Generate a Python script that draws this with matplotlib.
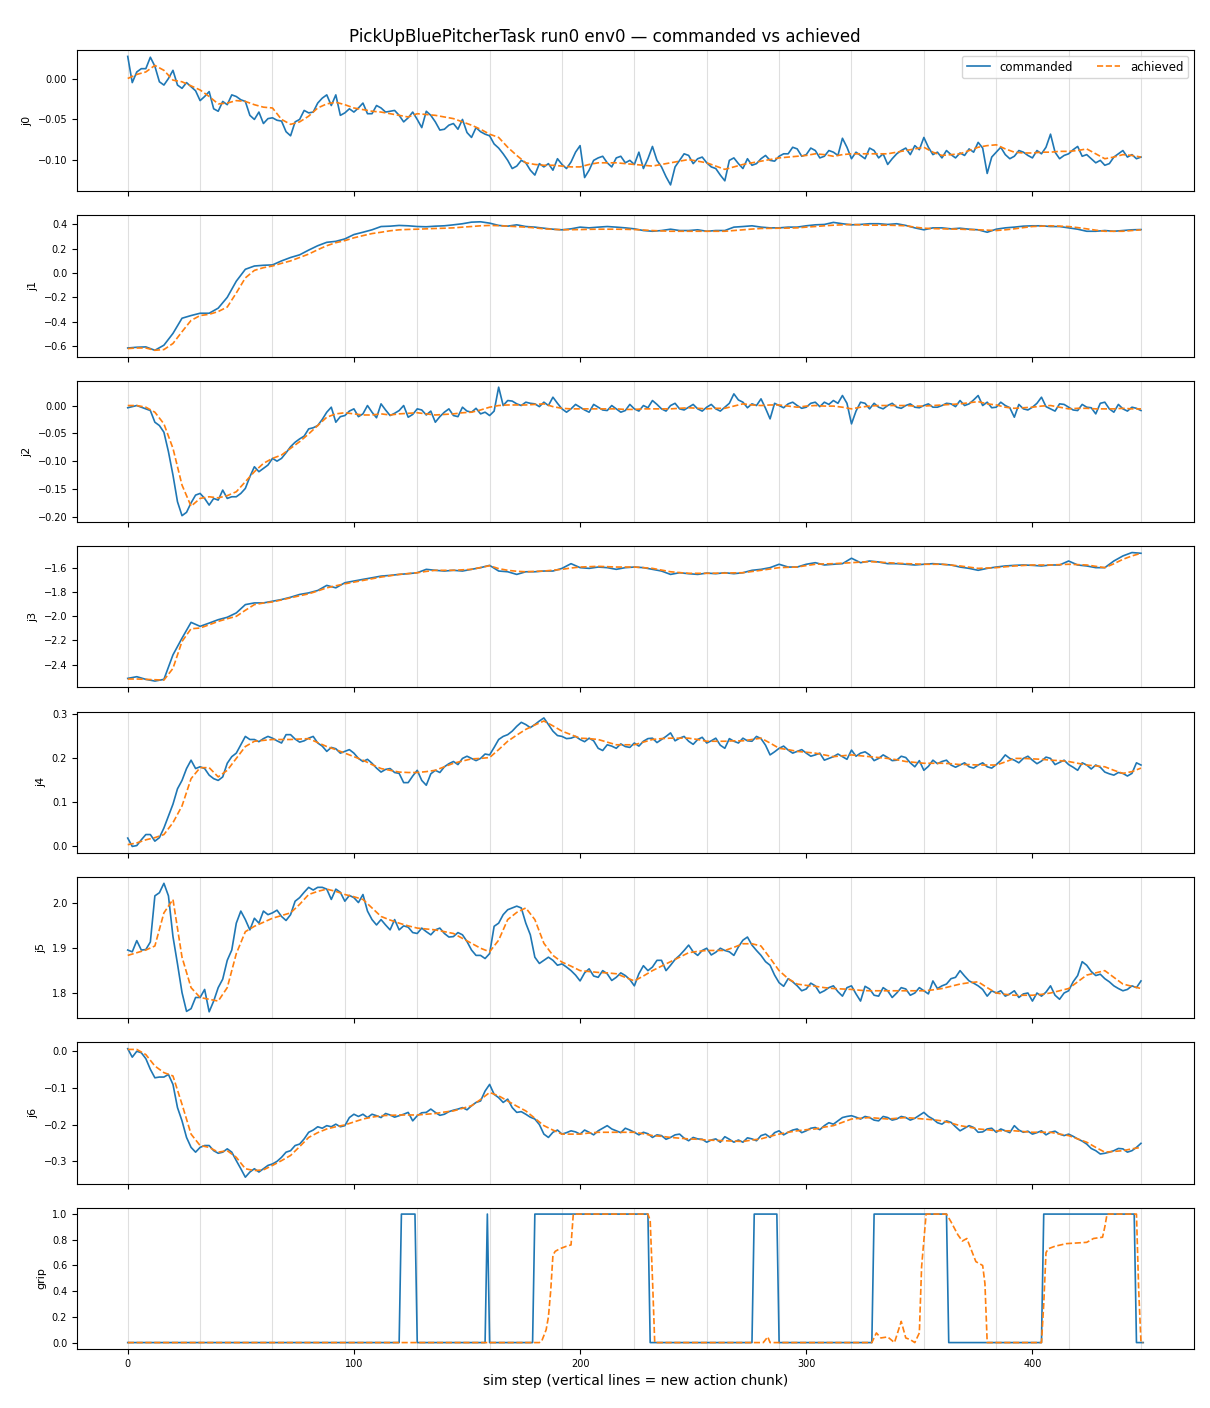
import numpy as np
import matplotlib
matplotlib.use("Agg")
import matplotlib.pyplot as plt
from matplotlib.ticker import MaxNLocator

# commanded / achieved joint values, read every 4 sim steps (0..448)
steps = np.arange(0, 449, 4)
chunk_starts = np.arange(0, 449, 32)

j0_cmd = [0.027, 0.008, 0.012, 0.015, -0.008, 0.010, -0.012, -0.010,
          -0.027, -0.016, -0.040, -0.032, -0.022, -0.028, -0.050, -0.055,
          -0.048, -0.052, -0.070, -0.050, -0.042, -0.030, -0.020, -0.020,
          -0.042, -0.041, -0.030, -0.043, -0.036, -0.040, -0.045, -0.048,
          -0.050, -0.040, -0.053, -0.062, -0.055, -0.050, -0.072, -0.065,
          -0.070, -0.085, -0.100, -0.107, -0.103, -0.118, -0.108, -0.112,
          -0.105, -0.102, -0.082, -0.112, -0.097, -0.103, -0.097, -0.103,
          -0.105, -0.110, -0.083, -0.108, -0.130, -0.100, -0.094, -0.098,
          -0.103, -0.110, -0.125, -0.097, -0.110, -0.106, -0.098, -0.100,
          -0.095, -0.092, -0.086, -0.093, -0.088, -0.095, -0.090, -0.073,
          -0.098, -0.094, -0.085, -0.097, -0.105, -0.092, -0.085, -0.082,
          -0.072, -0.093, -0.097, -0.093, -0.091, -0.086, -0.078, -0.116,
          -0.090, -0.093, -0.095, -0.090, -0.097, -0.092, -0.068, -0.098,
          -0.092, -0.083, -0.093, -0.103, -0.106, -0.096, -0.088, -0.093,
          -0.096]
# commanded values in between (steps 2, 6, ..., 446)
j0_cmd_mid = [-0.005, 0.012, 0.026, -0.004, 0.000, -0.008, -0.005, -0.015,
              -0.022, -0.037, -0.028, -0.020, -0.026, -0.045, -0.041, -0.049,
              -0.051, -0.065, -0.053, -0.039, -0.041, -0.024, -0.033, -0.045,
              -0.037, -0.036, -0.043, -0.033, -0.041, -0.039, -0.053, -0.041,
              -0.060, -0.045, -0.063, -0.057, -0.062, -0.066, -0.060, -0.068,
              -0.080, -0.092, -0.110, -0.100, -0.112, -0.104, -0.104, -0.098,
              -0.110, -0.090, -0.121, -0.100, -0.095, -0.108, -0.095, -0.100,
              -0.090, -0.098, -0.100, -0.120, -0.108, -0.092, -0.104, -0.096,
              -0.108, -0.118, -0.100, -0.104, -0.098, -0.104, -0.094, -0.101,
              -0.092, -0.084, -0.095, -0.085, -0.097, -0.088, -0.094, -0.084,
              -0.090, -0.098, -0.088, -0.092, -0.098, -0.088, -0.093, -0.087,
              -0.084, -0.090, -0.088, -0.097, -0.094, -0.090, -0.085, -0.096,
              -0.084, -0.098, -0.088, -0.094, -0.088, -0.084, -0.090, -0.094,
              -0.087, -0.095, -0.098, -0.100, -0.104, -0.092, -0.096, -0.098]
j0_ach = [0.000, 0.005, 0.008, 0.016, 0.010, -0.002, -0.004, -0.009,
          -0.014, -0.022, -0.031, -0.030, -0.027, -0.028, -0.032, -0.035,
          -0.036, -0.050, -0.056, -0.053, -0.046, -0.036, -0.031, -0.029,
          -0.032, -0.036, -0.038, -0.040, -0.041, -0.043, -0.045, -0.047,
          -0.043, -0.044, -0.045, -0.047, -0.049, -0.053, -0.057, -0.062,
          -0.068, -0.072, -0.084, -0.094, -0.103, -0.105, -0.106, -0.106,
          -0.107, -0.108, -0.108, -0.105, -0.103, -0.103, -0.103, -0.104,
          -0.105, -0.106, -0.107, -0.105, -0.103, -0.101, -0.099, -0.101,
          -0.103, -0.107, -0.111, -0.108, -0.105, -0.103, -0.101, -0.099,
          -0.097, -0.096, -0.095, -0.094, -0.092, -0.093, -0.095, -0.093,
          -0.092, -0.092, -0.092, -0.092, -0.092, -0.090, -0.088, -0.086,
          -0.084, -0.090, -0.094, -0.093, -0.092, -0.088, -0.084, -0.082,
          -0.081, -0.086, -0.090, -0.091, -0.091, -0.090, -0.090, -0.089,
          -0.089, -0.088, -0.086, -0.092, -0.098, -0.096, -0.093, -0.094,
          -0.096]

j1_cmd = [-0.617, -0.611, -0.608, -0.636, -0.594, -0.497, -0.372, -0.350,
          -0.331, -0.331, -0.289, -0.200, -0.067, 0.031, 0.058, 0.064,
          0.067, 0.100, 0.128, 0.150, 0.189, 0.225, 0.253, 0.261,
          0.281, 0.317, 0.336, 0.356, 0.383, 0.386, 0.392, 0.389,
          0.383, 0.381, 0.386, 0.389, 0.397, 0.406, 0.419, 0.422,
          0.411, 0.392, 0.386, 0.397, 0.383, 0.378, 0.369, 0.361,
          0.356, 0.364, 0.378, 0.372, 0.378, 0.383, 0.378, 0.372,
          0.364, 0.350, 0.344, 0.350, 0.361, 0.350, 0.350, 0.356,
          0.344, 0.350, 0.350, 0.378, 0.383, 0.389, 0.378, 0.372,
          0.372, 0.378, 0.378, 0.389, 0.397, 0.400, 0.417, 0.406,
          0.397, 0.400, 0.406, 0.406, 0.400, 0.406, 0.392, 0.372,
          0.356, 0.372, 0.372, 0.364, 0.369, 0.361, 0.356, 0.336,
          0.361, 0.372, 0.378, 0.386, 0.389, 0.389, 0.383, 0.383,
          0.372, 0.361, 0.344, 0.344, 0.350, 0.344, 0.350, 0.356,
          0.358]
j1_ach = [-0.622, -0.617, -0.617, -0.636, -0.630, -0.580, -0.483, -0.390,
          -0.350, -0.340, -0.317, -0.280, -0.164, -0.040, 0.022, 0.044,
          0.058, 0.080, 0.100, 0.128, 0.156, 0.192, 0.225, 0.250,
          0.267, 0.290, 0.308, 0.325, 0.336, 0.348, 0.356, 0.359,
          0.361, 0.364, 0.367, 0.369, 0.372, 0.378, 0.383, 0.389,
          0.392, 0.390, 0.386, 0.382, 0.378, 0.372, 0.364, 0.360,
          0.356, 0.357, 0.358, 0.360, 0.361, 0.361, 0.361, 0.360,
          0.358, 0.354, 0.350, 0.347, 0.344, 0.344, 0.344, 0.344,
          0.344, 0.344, 0.344, 0.350, 0.356, 0.362, 0.367, 0.368,
          0.369, 0.370, 0.372, 0.378, 0.383, 0.389, 0.394, 0.397,
          0.400, 0.397, 0.394, 0.394, 0.394, 0.392, 0.389, 0.378,
          0.369, 0.366, 0.364, 0.362, 0.361, 0.358, 0.356, 0.353,
          0.350, 0.356, 0.364, 0.374, 0.383, 0.386, 0.389, 0.386,
          0.383, 0.374, 0.364, 0.353, 0.344, 0.344, 0.344, 0.350,
          0.356]

j2_cmd = [-0.004, 0.000, -0.006, -0.030, -0.048, -0.125, -0.198, -0.175,
          -0.158, -0.179, -0.170, -0.167, -0.164, -0.149, -0.110, -0.113,
          -0.095, -0.095, -0.074, -0.060, -0.042, -0.036, -0.012, -0.030,
          -0.018, -0.006, -0.015, -0.012, 0.003, -0.018, -0.009, -0.021,
          -0.006, -0.017, -0.030, -0.012, -0.018, -0.003, -0.012, -0.015,
          -0.018, 0.033, 0.009, 0.003, 0.006, 0.003, 0.006, 0.015,
          -0.006, -0.006, -0.003, -0.012, -0.003, -0.009, -0.006, -0.009,
          -0.006, 0.000, 0.009, -0.006, 0.000, -0.006, -0.003, -0.006,
          -0.003, -0.006, -0.003, 0.021, 0.006, 0.003, 0.012, -0.024,
          0.000, 0.003, 0.000, -0.003, 0.006, 0.006, 0.009, 0.018,
          -0.033, 0.006, -0.006, -0.003, 0.000, -0.003, 0.000, -0.003,
          0.000, -0.003, 0.000, 0.003, 0.009, 0.003, 0.018, 0.006,
          -0.003, 0.000, -0.021, -0.006, -0.003, 0.015, -0.006, 0.003,
          -0.003, -0.009, -0.003, -0.015, 0.006, -0.012, -0.006, -0.003,
          -0.009]
j2_cmd_mid = [-0.002, -0.003, -0.009, -0.036, -0.083, -0.173, -0.192, -0.161,
              -0.167, -0.167, -0.152, -0.164, -0.158, -0.128, -0.119, -0.107,
              -0.100, -0.085, -0.066, -0.055, -0.040, -0.025, -0.003, -0.020,
              -0.010, -0.020, 0.000, -0.022, -0.008, -0.014, 0.000, -0.016,
              -0.008, -0.010, -0.020, -0.006, -0.020, -0.010, -0.005, -0.012,
              -0.010, 0.000, 0.008, 0.000, 0.004, -0.002, 0.000, 0.004,
              -0.012, 0.002, -0.008, 0.002, -0.008, 0.000, -0.012, 0.002,
              -0.010, -0.004, 0.002, -0.010, 0.004, -0.008, 0.002, -0.010,
              0.002, -0.010, 0.004, 0.010, -0.004, 0.000, -0.005, 0.004,
              -0.004, 0.006, -0.005, 0.004, -0.002, 0.002, 0.004, 0.004,
              -0.010, 0.004, 0.004, -0.006, 0.004, -0.005, 0.003, -0.004,
              0.003, -0.003, 0.004, -0.002, 0.000, 0.010, 0.000, -0.004,
              0.006, -0.004, 0.002, -0.008, 0.004, -0.002, -0.010, 0.002,
              -0.008, 0.002, -0.004, 0.004, -0.006, 0.002, -0.010, -0.005]
j2_ach = [0.000, 0.000, -0.003, -0.012, -0.033, -0.077, -0.143, -0.181,
          -0.167, -0.164, -0.166, -0.162, -0.155, -0.137, -0.119, -0.104,
          -0.095, -0.089, -0.077, -0.065, -0.051, -0.036, -0.021, -0.015,
          -0.013, -0.015, -0.017, -0.017, -0.015, -0.017, -0.015, -0.014,
          -0.013, -0.015, -0.017, -0.016, -0.015, -0.013, -0.012, -0.008,
          -0.003, 0.000, 0.001, 0.001, 0.001, 0.002, 0.003, -0.002,
          -0.005, -0.006, -0.006, -0.006, -0.006, -0.006, -0.006, -0.007,
          -0.007, -0.006, -0.006, -0.006, -0.006, -0.005, -0.004, -0.005,
          -0.006, -0.005, -0.005, -0.001, 0.003, 0.001, 0.000, 0.001,
          0.001, -0.001, -0.003, -0.001, 0.000, -0.001, -0.001, -0.003,
          -0.006, -0.003, -0.001, 0.000, 0.000, 0.000, 0.000, -0.001,
          -0.001, 0.000, 0.001, 0.002, 0.003, 0.005, 0.007, 0.003,
          0.001, -0.003, -0.005, -0.004, -0.003, -0.001, 0.000, -0.003,
          -0.006, -0.005, -0.005, -0.006, -0.006, -0.006, -0.005, -0.006,
          -0.006]

j3_cmd = [-2.514, -2.500, -2.522, -2.536, -2.522, -2.319, -2.181, -2.050,
          -2.083, -2.056, -2.028, -2.008, -1.972, -1.903, -1.889, -1.889,
          -1.875, -1.861, -1.842, -1.819, -1.806, -1.786, -1.744, -1.764,
          -1.722, -1.708, -1.694, -1.681, -1.667, -1.661, -1.653, -1.647,
          -1.639, -1.611, -1.619, -1.625, -1.619, -1.625, -1.611, -1.597,
          -1.578, -1.625, -1.631, -1.653, -1.631, -1.631, -1.625, -1.625,
          -1.603, -1.564, -1.597, -1.603, -1.592, -1.597, -1.611, -1.597,
          -1.592, -1.597, -1.611, -1.625, -1.653, -1.639, -1.647, -1.653,
          -1.642, -1.647, -1.639, -1.647, -1.639, -1.619, -1.611, -1.597,
          -1.569, -1.592, -1.592, -1.569, -1.556, -1.575, -1.569, -1.564,
          -1.519, -1.556, -1.542, -1.550, -1.564, -1.564, -1.569, -1.575,
          -1.569, -1.564, -1.569, -1.575, -1.592, -1.603, -1.619, -1.603,
          -1.592, -1.583, -1.578, -1.575, -1.578, -1.583, -1.575, -1.575,
          -1.542, -1.575, -1.583, -1.597, -1.597, -1.542, -1.500, -1.472,
          -1.478]
j3_ach = [-2.519, -2.519, -2.522, -2.525, -2.528, -2.431, -2.208, -2.103,
          -2.097, -2.070, -2.042, -2.020, -2.000, -1.950, -1.903, -1.890,
          -1.881, -1.864, -1.847, -1.830, -1.814, -1.790, -1.764, -1.747,
          -1.731, -1.717, -1.703, -1.689, -1.675, -1.664, -1.653, -1.646,
          -1.639, -1.628, -1.619, -1.619, -1.619, -1.615, -1.611, -1.596,
          -1.581, -1.605, -1.619, -1.627, -1.631, -1.628, -1.625, -1.618,
          -1.611, -1.600, -1.592, -1.589, -1.586, -1.589, -1.592, -1.592,
          -1.592, -1.597, -1.603, -1.617, -1.631, -1.638, -1.644, -1.644,
          -1.644, -1.643, -1.642, -1.640, -1.639, -1.629, -1.619, -1.608,
          -1.597, -1.594, -1.592, -1.580, -1.569, -1.566, -1.564, -1.560,
          -1.556, -1.551, -1.547, -1.551, -1.556, -1.560, -1.564, -1.566,
          -1.569, -1.569, -1.569, -1.576, -1.583, -1.593, -1.603, -1.600,
          -1.597, -1.590, -1.583, -1.579, -1.575, -1.575, -1.575, -1.572,
          -1.569, -1.572, -1.575, -1.586, -1.597, -1.565, -1.528, -1.500,
          -1.478]

j4_cmd = [0.019, 0.002, 0.027, 0.012, 0.042, 0.096, 0.150, 0.196,
          0.181, 0.162, 0.150, 0.189, 0.212, 0.250, 0.243, 0.245,
          0.246, 0.235, 0.254, 0.237, 0.246, 0.235, 0.216, 0.222,
          0.216, 0.212, 0.193, 0.189, 0.169, 0.177, 0.166, 0.145,
          0.173, 0.139, 0.173, 0.181, 0.193, 0.200, 0.200, 0.200,
          0.208, 0.243, 0.254, 0.273, 0.277, 0.277, 0.292, 0.262,
          0.250, 0.246, 0.243, 0.246, 0.223, 0.231, 0.223, 0.227,
          0.235, 0.239, 0.246, 0.243, 0.258, 0.246, 0.239, 0.243,
          0.235, 0.246, 0.223, 0.239, 0.246, 0.239, 0.245, 0.208,
          0.223, 0.219, 0.216, 0.212, 0.208, 0.196, 0.204, 0.204,
          0.219, 0.212, 0.208, 0.200, 0.202, 0.196, 0.202, 0.181,
          0.173, 0.196, 0.193, 0.185, 0.185, 0.181, 0.185, 0.181,
          0.186, 0.208, 0.196, 0.200, 0.196, 0.194, 0.200, 0.191,
          0.186, 0.173, 0.185, 0.185, 0.169, 0.162, 0.166, 0.166,
          0.185]
j4_cmd_mid = [0.000, 0.015, 0.027, 0.020, 0.069, 0.131, 0.177, 0.177,
              0.177, 0.154, 0.158, 0.204, 0.231, 0.243, 0.238, 0.250,
              0.240, 0.254, 0.244, 0.240, 0.250, 0.228, 0.225, 0.212,
              0.220, 0.200, 0.198, 0.178, 0.175, 0.168, 0.145, 0.160,
              0.150, 0.165, 0.168, 0.188, 0.186, 0.205, 0.195, 0.210,
              0.225, 0.250, 0.262, 0.282, 0.270, 0.285, 0.277, 0.252,
              0.245, 0.250, 0.238, 0.240, 0.218, 0.228, 0.233, 0.225,
              0.228, 0.245, 0.236, 0.250, 0.240, 0.250, 0.232, 0.248,
              0.240, 0.230, 0.245, 0.235, 0.240, 0.250, 0.230, 0.215,
              0.228, 0.212, 0.220, 0.205, 0.212, 0.200, 0.210, 0.198,
              0.205, 0.215, 0.195, 0.208, 0.195, 0.205, 0.190, 0.195,
              0.182, 0.188, 0.196, 0.180, 0.190, 0.178, 0.190, 0.178,
              0.195, 0.200, 0.190, 0.205, 0.188, 0.203, 0.186, 0.196,
              0.180, 0.190, 0.176, 0.180, 0.165, 0.168, 0.160, 0.190]
j4_ach = [0.004, 0.008, 0.015, 0.020, 0.027, 0.054, 0.092, 0.154,
          0.179, 0.179, 0.158, 0.173, 0.200, 0.227, 0.239, 0.241,
          0.243, 0.243, 0.243, 0.244, 0.245, 0.236, 0.227, 0.220,
          0.212, 0.204, 0.196, 0.186, 0.177, 0.173, 0.169, 0.168,
          0.168, 0.170, 0.173, 0.181, 0.189, 0.194, 0.199, 0.200,
          0.202, 0.220, 0.239, 0.253, 0.266, 0.276, 0.285, 0.274,
          0.262, 0.254, 0.246, 0.245, 0.243, 0.237, 0.231, 0.231,
          0.231, 0.237, 0.243, 0.245, 0.246, 0.246, 0.246, 0.243,
          0.239, 0.239, 0.239, 0.240, 0.240, 0.243, 0.246, 0.235,
          0.223, 0.220, 0.216, 0.214, 0.212, 0.208, 0.204, 0.206,
          0.208, 0.206, 0.204, 0.202, 0.200, 0.197, 0.193, 0.191,
          0.189, 0.189, 0.189, 0.188, 0.186, 0.186, 0.185, 0.185,
          0.185, 0.192, 0.200, 0.200, 0.199, 0.198, 0.196, 0.195,
          0.193, 0.189, 0.185, 0.183, 0.181, 0.173, 0.166, 0.170,
          0.178]

j5_cmd = [1.896, 1.917, 1.897, 2.017, 2.045, 1.926, 1.801, 1.765,
          1.790, 1.758, 1.812, 1.873, 1.956, 1.964, 1.967, 1.983,
          1.979, 1.971, 1.975, 2.013, 2.036, 2.036, 2.032, 2.032,
          2.005, 2.013, 2.020, 1.964, 1.964, 1.941, 1.941, 1.947,
          1.933, 1.937, 1.941, 1.933, 1.926, 1.930, 1.896, 1.884,
          1.888, 1.956, 1.986, 1.994, 1.956, 1.880, 1.873, 1.873,
          1.865, 1.850, 1.827, 1.854, 1.835, 1.843, 1.835, 1.839,
          1.816, 1.861, 1.858, 1.873, 1.862, 1.884, 1.907, 1.884,
          1.900, 1.891, 1.895, 1.884, 1.918, 1.907, 1.884, 1.862,
          1.823, 1.832, 1.816, 1.809, 1.816, 1.805, 1.816, 1.793,
          1.816, 1.782, 1.809, 1.793, 1.805, 1.800, 1.809, 1.800,
          1.805, 1.827, 1.816, 1.832, 1.850, 1.827, 1.816, 1.793,
          1.800, 1.793, 1.805, 1.798, 1.782, 1.793, 1.816, 1.786,
          1.805, 1.839, 1.862, 1.839, 1.832, 1.816, 1.805, 1.816,
          1.827]
j5_cmd_mid = [1.892, 1.896, 1.914, 2.024, 2.017, 1.865, 1.759, 1.790,
              1.808, 1.782, 1.831, 1.896, 1.983, 1.941, 1.956, 1.975,
              1.985, 1.962, 2.005, 2.025, 2.030, 2.036, 2.009, 2.025,
              2.018, 2.002, 1.983, 1.952, 1.952, 1.964, 1.950, 1.935,
              1.945, 1.930, 1.945, 1.925, 1.935, 1.915, 1.884, 1.877,
              1.949, 1.975, 1.990, 1.990, 1.930, 1.866, 1.880, 1.862,
              1.858, 1.840, 1.845, 1.838, 1.850, 1.828, 1.845, 1.830,
              1.843, 1.850, 1.873, 1.850, 1.875, 1.895, 1.892, 1.895,
              1.885, 1.900, 1.892, 1.903, 1.925, 1.895, 1.870, 1.840,
              1.815, 1.825, 1.805, 1.822, 1.800, 1.812, 1.803, 1.812,
              1.798, 1.815, 1.795, 1.812, 1.790, 1.812, 1.795, 1.812,
              1.798, 1.810, 1.820, 1.835, 1.838, 1.822, 1.808, 1.805,
              1.805, 1.798, 1.790, 1.800, 1.800, 1.802, 1.795, 1.800,
              1.825, 1.870, 1.848, 1.842, 1.825, 1.810, 1.808, 1.812]
j5_ach = [1.884, 1.890, 1.896, 1.905, 1.979, 2.009, 1.880, 1.812,
          1.790, 1.786, 1.782, 1.812, 1.888, 1.937, 1.949, 1.958,
          1.967, 1.973, 1.979, 1.998, 2.020, 2.027, 2.032, 2.027,
          2.020, 2.015, 2.009, 1.990, 1.971, 1.963, 1.956, 1.950,
          1.945, 1.943, 1.941, 1.937, 1.933, 1.922, 1.911, 1.900,
          1.892, 1.918, 1.964, 1.980, 1.990, 1.964, 1.911, 1.884,
          1.869, 1.860, 1.850, 1.848, 1.846, 1.845, 1.843, 1.835,
          1.827, 1.838, 1.850, 1.860, 1.870, 1.880, 1.890, 1.893,
          1.895, 1.895, 1.895, 1.902, 1.910, 1.910, 1.905, 1.878,
          1.850, 1.832, 1.820, 1.817, 1.815, 1.812, 1.810, 1.809,
          1.808, 1.806, 1.805, 1.805, 1.805, 1.805, 1.805, 1.805,
          1.805, 1.807, 1.810, 1.815, 1.820, 1.823, 1.825, 1.812,
          1.800, 1.797, 1.795, 1.795, 1.795, 1.797, 1.800, 1.805,
          1.810, 1.825, 1.840, 1.845, 1.850, 1.835, 1.820, 1.815,
          1.810]

j6_cmd = [0.006, -0.001, -0.021, -0.073, -0.071, -0.091, -0.190, -0.262,
          -0.262, -0.257, -0.278, -0.266, -0.298, -0.343, -0.320, -0.320,
          -0.307, -0.289, -0.271, -0.253, -0.221, -0.206, -0.203, -0.199,
          -0.203, -0.172, -0.172, -0.172, -0.181, -0.174, -0.176, -0.167,
          -0.176, -0.167, -0.167, -0.172, -0.161, -0.154, -0.149, -0.136,
          -0.091, -0.127, -0.131, -0.167, -0.172, -0.185, -0.226, -0.221,
          -0.226, -0.217, -0.226, -0.221, -0.217, -0.203, -0.217, -0.210,
          -0.221, -0.221, -0.235, -0.230, -0.235, -0.226, -0.244, -0.239,
          -0.248, -0.239, -0.233, -0.248, -0.248, -0.239, -0.230, -0.235,
          -0.217, -0.221, -0.212, -0.217, -0.208, -0.203, -0.199, -0.181,
          -0.176, -0.185, -0.181, -0.190, -0.181, -0.185, -0.181, -0.183,
          -0.167, -0.185, -0.199, -0.194, -0.217, -0.203, -0.221, -0.212,
          -0.221, -0.217, -0.203, -0.221, -0.226, -0.217, -0.221, -0.226,
          -0.226, -0.239, -0.253, -0.271, -0.278, -0.271, -0.266, -0.271,
          -0.251]
j6_cmd_mid = [-0.017, -0.005, -0.050, -0.071, -0.064, -0.154, -0.235, -0.275,
              -0.257, -0.271, -0.275, -0.275, -0.320, -0.329, -0.329, -0.311,
              -0.300, -0.275, -0.257, -0.239, -0.215, -0.210, -0.206, -0.206,
              -0.181, -0.178, -0.181, -0.176, -0.170, -0.180, -0.172, -0.190,
              -0.168, -0.158, -0.175, -0.165, -0.158, -0.160, -0.140, -0.109,
              -0.118, -0.140, -0.154, -0.165, -0.180, -0.200, -0.235, -0.215,
              -0.222, -0.220, -0.215, -0.228, -0.210, -0.212, -0.222, -0.215,
              -0.228, -0.225, -0.228, -0.240, -0.228, -0.237, -0.235, -0.240,
              -0.242, -0.248, -0.240, -0.242, -0.236, -0.244, -0.226, -0.222,
              -0.228, -0.215, -0.222, -0.210, -0.214, -0.195, -0.190, -0.178,
              -0.180, -0.178, -0.188, -0.178, -0.188, -0.178, -0.188, -0.175,
              -0.178, -0.195, -0.190, -0.206, -0.210, -0.208, -0.220, -0.210,
              -0.212, -0.222, -0.215, -0.218, -0.222, -0.228, -0.218, -0.230,
              -0.232, -0.245, -0.265, -0.280, -0.275, -0.265, -0.275, -0.262]
j6_ach = [0.004, 0.004, -0.010, -0.041, -0.059, -0.068, -0.145, -0.226,
          -0.257, -0.262, -0.275, -0.271, -0.289, -0.320, -0.325, -0.323,
          -0.311, -0.298, -0.284, -0.260, -0.235, -0.222, -0.212, -0.206,
          -0.201, -0.193, -0.185, -0.180, -0.176, -0.175, -0.174, -0.174,
          -0.174, -0.172, -0.170, -0.166, -0.163, -0.156, -0.149, -0.132,
          -0.113, -0.122, -0.136, -0.150, -0.163, -0.183, -0.203, -0.215,
          -0.226, -0.226, -0.226, -0.223, -0.221, -0.221, -0.221, -0.221,
          -0.221, -0.225, -0.230, -0.232, -0.235, -0.237, -0.239, -0.240,
          -0.242, -0.243, -0.244, -0.245, -0.246, -0.242, -0.239, -0.232,
          -0.226, -0.221, -0.217, -0.214, -0.212, -0.207, -0.203, -0.194,
          -0.185, -0.183, -0.181, -0.183, -0.185, -0.183, -0.181, -0.183,
          -0.185, -0.187, -0.190, -0.196, -0.203, -0.207, -0.212, -0.214,
          -0.217, -0.217, -0.217, -0.219, -0.221, -0.221, -0.221, -0.226,
          -0.230, -0.239, -0.248, -0.262, -0.275, -0.273, -0.271, -0.266,
          -0.262]

# gripper: breakpoints (step, value)
grip_cmd_steps = [0, 120, 121, 127, 128, 158, 159, 160, 179, 180, 230, 231,
                  276, 277, 287, 288, 329, 330, 362, 363, 404, 405, 445, 446, 449]
grip_cmd = [0, 0, 1, 1, 0, 0, 1, 0, 0, 1, 1, 0,
            0, 1, 1, 0, 0, 1, 1, 0, 0, 1, 1, 0, 0]
grip_ach_steps = [0, 182, 183, 185, 186, 187, 188, 189, 191, 194,
                  196, 197, 230, 231, 232, 233, 281, 283, 284, 329,
                  331, 333, 336, 339, 342, 344, 346, 348, 350, 351,
                  353, 362, 364, 367, 369, 371, 373, 375, 378, 379,
                  380, 404, 405, 406, 407, 410, 415, 424, 427, 431,
                  432, 433, 446, 447, 448, 449]
grip_ach = [0, 0, 0.01, 0.1, 0.2, 0.4, 0.68, 0.71, 0.73, 0.75,
            0.76, 1.0, 1.0, 0.95, 0.5, 0, 0, 0.045, 0, 0,
            0.075, 0.036, 0.044, 0, 0.165, 0.036, 0.023, 0, 0.075, 0.59,
            1.0, 1.0, 0.94, 0.84, 0.79, 0.81, 0.72, 0.63, 0.6, 0.46,
            0, 0, 0.3, 0.7, 0.73, 0.75, 0.77, 0.78, 0.81, 0.82,
            0.9, 1.0, 1.0, 0.4, 0, 0]

joints = [
    ("j0", j0_cmd, j0_cmd_mid, j0_ach),
    ("j1", j1_cmd, None, j1_ach),
    ("j2", j2_cmd, j2_cmd_mid, j2_ach),
    ("j3", j3_cmd, None, j3_ach),
    ("j4", j4_cmd, j4_cmd_mid, j4_ach),
    ("j5", j5_cmd, j5_cmd_mid, j5_ach),
    ("j6", j6_cmd, j6_cmd_mid, j6_ach),
]


def merge_cmd(cmd, mid):
    # interleave the 4-step readings with the in-between readings
    if mid is None:
        return steps, np.array(cmd)
    full = np.empty(len(cmd) + len(mid))
    full[0::2] = cmd
    full[1::2] = mid
    return np.arange(0, 2 * len(full) - 1, 2), full


fig, axes = plt.subplots(8, 1, figsize=(12.1, 14.08), dpi=100, sharex=True)
fig.subplots_adjust(left=0.0636, right=0.9868, top=0.9645, bottom=0.0419, hspace=0.17)

for ax, (name, cmd, mid, ach) in zip(axes, joints):
    for c in chunk_starts:
        ax.axvline(c, color="gray", alpha=0.25, lw=0.8)
    xs, ys = merge_cmd(cmd, mid)
    ax.plot(xs, ys, color="C0", lw=1.2, label="commanded")
    ax.plot(steps, ach, "--", color="C1", lw=1.2, label="achieved")
    ax.set_ylabel(name, fontsize=8)

ax = axes[-1]
for c in chunk_starts:
    ax.axvline(c, color="gray", alpha=0.25, lw=0.8)
ax.plot(grip_cmd_steps, grip_cmd, color="C0", lw=1.2, label="commanded")
ax.plot(grip_ach_steps, grip_ach, "--", color="C1", lw=1.2, label="achieved")
ax.set_ylabel("grip", fontsize=8)
ax.set_xlabel("sim step (vertical lines = new action chunk)")

for ax in axes:
    ax.yaxis.set_major_locator(MaxNLocator(nbins=6, steps=[1, 2, 2.5, 5, 10]))
    ax.tick_params(labelsize=7)

axes[0].legend(loc="upper right", ncol=2, fontsize=8.5)
fig.suptitle("PickUpBluePitcherTask run0 env0 \u2014 commanded vs achieved", fontsize=12)

fig.savefig("out.png", dpi=100)
